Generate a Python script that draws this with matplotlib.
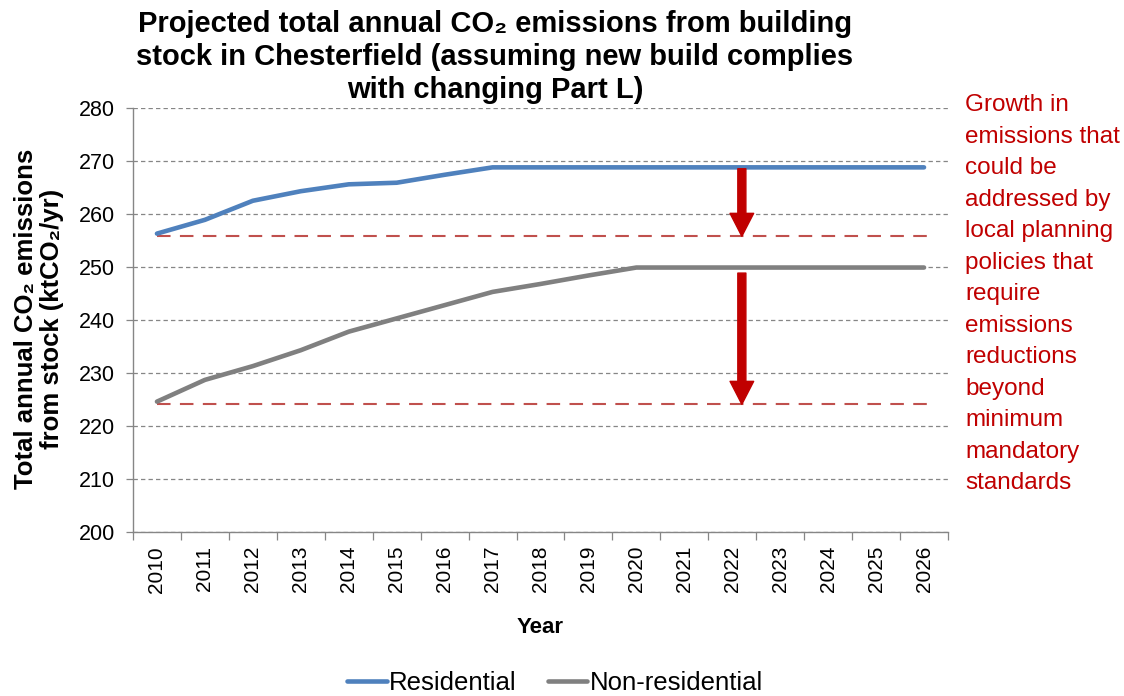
import numpy as np
import matplotlib.pyplot as plt
from matplotlib.patches import FancyArrowPatch

years = [str(y) for y in range(2010, 2027)]
residential = [256.3, 258.9, 262.5, 264.3, 265.6, 265.9, 267.4, 268.8,
               268.8, 268.8, 268.8, 268.8, 268.8, 268.8, 268.8, 268.8, 268.8]
non_residential = [224.6, 228.7, 231.3, 234.3, 237.8, 240.3, 242.8, 245.3,
                   246.8, 248.4, 249.9, 249.9, 249.9, 249.9, 249.9, 249.9, 249.9]
baselines = [255.8, 224.1]      # 2010 levels (red dashed)
arrow_pos = 12.2                # category position of the arrows
note = ('Growth in\nemissions that\ncould be\naddressed by\nlocal planning\n'
        'policies that\nrequire\nemissions\nreductions\nbeyond\nminimum\n'
        'mandatory\nstandards')

blue = '#4f81bd'
grey = '#808080'
axcol = '#868686'
dred = '#c00000'
plt.rcParams['font.family'] = ['Liberation Sans', 'DejaVu Sans']

fig = plt.figure(figsize=(11.24, 6.96), dpi=100)
ax = fig.add_axes([133/1124, 1-532/696, 815/1124, 424/696])

x = np.arange(len(years))
ax.plot(x, residential, color=blue, lw=3.3, solid_capstyle='round', label='Residential', zorder=3)
ax.plot(x, non_residential, color=grey, lw=3.3, solid_capstyle='round', label='Non-residential', zorder=3)

for b in baselines:
    ax.plot([x[0], x[-1] + 0.1], [b, b], color='#c0504d', lw=1.5, dashes=(6.5, 4.5), zorder=2)

tops = [residential[-1], non_residential[-1]]
for top, b, sh in zip(tops, baselines, [1, 4]):
    arr = FancyArrowPatch((arrow_pos, top), (arrow_pos, b),
                          arrowstyle='simple,head_width=17,head_length=16.5,tail_width=5.8',
                          mutation_scale=1, color=dred, shrinkA=sh, shrinkB=0, zorder=4)
    ax.add_patch(arr)

ax.set_xlim(-0.5, len(years) - 0.5)
ax.set_ylim(200, 280)
ax.set_yticks(np.arange(200, 281, 10))
ax.yaxis.grid(True, color=axcol, lw=0.9, dashes=(3.5, 2.5))
ax.set_axisbelow(True)

ax.set_xticks(x)
ax.set_xticklabels(years, rotation=90, fontsize=15)
ax.set_xticks(np.arange(-0.5, len(years)), minor=True)
ax.tick_params(axis='x', which='major', length=0, pad=10)
ax.tick_params(axis='x', which='minor', length=6, color=axcol, width=0.9)
ax.tick_params(axis='y', length=5, color=axcol, width=0.9, labelsize=15.5, pad=8)

for s in ['top', 'right']:
    ax.spines[s].set_visible(False)
for s in ['left', 'bottom']:
    ax.spines[s].set_color(axcol)
    ax.spines[s].set_linewidth(1.0)

ax.set_xlabel('Year', fontsize=16, fontweight='bold')
ax.xaxis.set_label_coords(0.5, -0.2)

fig.text(39/1124, 1-319/696, 'Total annual CO₂ emissions\nfrom stock (ktCO₂/yr)',
         rotation=90, ha='center', va='center', multialignment='center',
         fontsize=18.5, fontweight='bold', linespacing=1.08)

fig.text(495/1124, 1-57/696,
         'Projected total annual CO₂ emissions from building\n'
         'stock in Chesterfield (assuming new build complies\n'
         'with changing Part L)',
         ha='center', va='center', fontsize=21, fontweight='bold',
         linespacing=1.22)

fig.text(965/1124, 1-94/696, note, ha='left', va='top', color=dred,
         fontsize=17.5, linespacing=1.56)

fig.legend(loc='center', bbox_to_anchor=(555/1124, 1-683/696), ncol=2,
           frameon=False, fontsize=18.5, handlelength=1.55, handletextpad=0.1,
           columnspacing=1.2)

fig.savefig('out.png', dpi=100)
